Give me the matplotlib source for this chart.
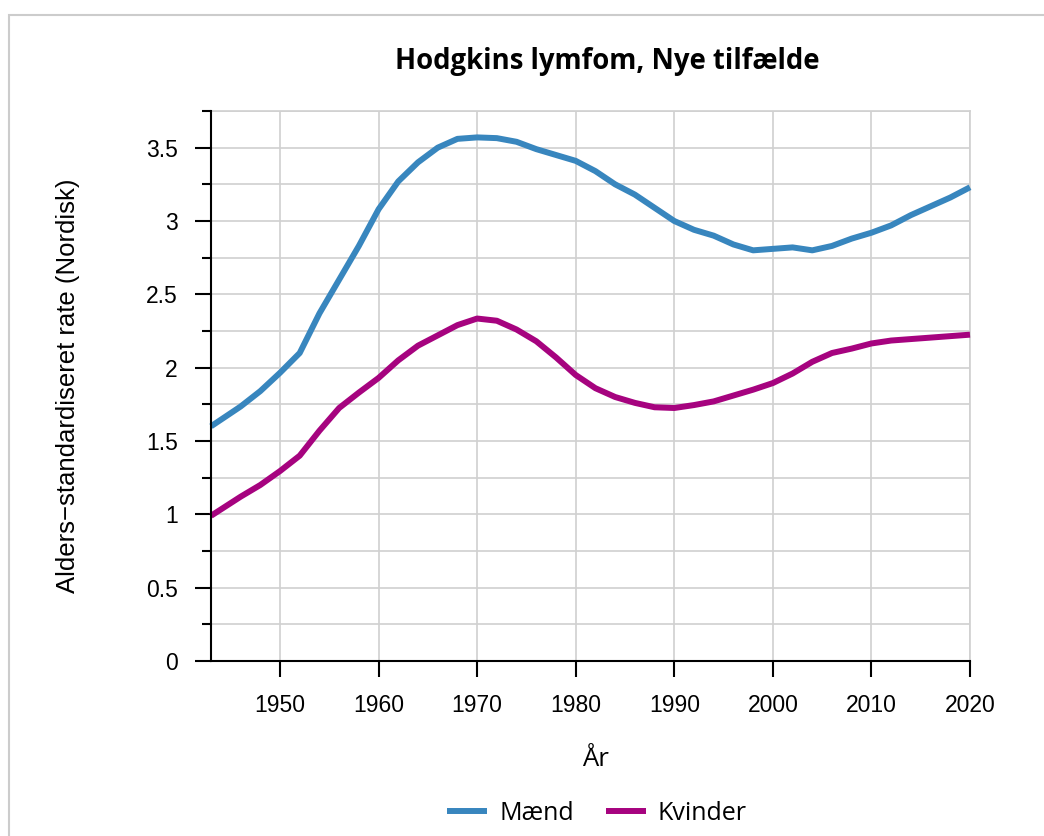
import matplotlib
matplotlib.use("Agg")
import matplotlib.pyplot as plt
from matplotlib.ticker import MultipleLocator, FixedLocator, FuncFormatter
from matplotlib.patches import Rectangle

years = [1943, 1946, 1948, 1950, 1952, 1954, 1956, 1958, 1960, 1962, 1964, 1966,
         1968, 1970, 1972, 1974, 1976, 1978, 1980, 1982, 1984, 1986, 1988, 1990,
         1992, 1994, 1996, 1998, 2000, 2002, 2004, 2006, 2008, 2010, 2012, 2014,
         2016, 2018, 2020]
maend = [1.60, 1.735, 1.84, 1.965, 2.10, 2.37, 2.60, 2.83, 3.08, 3.27, 3.40, 3.50,
         3.56, 3.57, 3.565, 3.54, 3.49, 3.45, 3.41, 3.34, 3.25, 3.18, 3.09, 3.00,
         2.94, 2.90, 2.84, 2.80, 2.81, 2.82, 2.80, 2.83, 2.88, 2.92, 2.97, 3.04,
         3.10, 3.16, 3.23]
kvinder = [0.99, 1.12, 1.20, 1.295, 1.40, 1.57, 1.725, 1.83, 1.93, 2.05, 2.15, 2.22,
           2.29, 2.335, 2.32, 2.26, 2.18, 2.07, 1.95, 1.86, 1.80, 1.76, 1.73, 1.725,
           1.745, 1.77, 1.81, 1.85, 1.895, 1.96, 2.04, 2.10, 2.13, 2.165, 2.185, 2.195,
           2.205, 2.215, 2.225]
series_names = ["Mænd", "Kvinder"]
colors = ["#3886be", "#a6037f"]
x_ticks = [1950, 1960, 1970, 1980, 1990, 2000, 2010, 2020]
title = "Hodgkins lymfom, Nye tilfælde"
xlabel = "År"
ylabel = "Alders\u2212standardiseret rate (Nordisk)"

W, H = 1044, 836
fig = plt.figure(figsize=(W / 100, H / 100), dpi=100)
fig.patch.set_facecolor("white")

# outer light frame
fig.patches.append(Rectangle((8.5 / W, -0.1), 1.2, 1 - 15 / H + 0.1,
                             transform=fig.transFigure, fill=False,
                             edgecolor="#cccccc", lw=1.5, zorder=0))

ax = fig.add_axes([211 / W, (H - 661) / H, (970 - 211) / W, (661 - 111) / H])
ax.set_xlim(1943, 2020)
ax.set_ylim(0, 3.75)

ax.plot(years, maend, color=colors[0], lw=4.3, label=series_names[0],
        solid_joinstyle="round", solid_capstyle="butt", zorder=3, clip_on=False)
ax.plot(years, kvinder, color=colors[1], lw=4.3, label=series_names[1],
        solid_joinstyle="round", solid_capstyle="butt", zorder=3, clip_on=False)

ax.xaxis.set_major_locator(FixedLocator(x_ticks))
ax.yaxis.set_major_locator(MultipleLocator(0.5))
ax.yaxis.set_minor_locator(MultipleLocator(0.25))
ax.yaxis.set_major_formatter(FuncFormatter(lambda v, p: f"{v:g}"))

ax.grid(True, which="major", axis="x", color="#d0d0d0", lw=1.2)
ax.grid(True, which="both", axis="y", color="#d0d0d0", lw=1.2)
ax.set_axisbelow(True)

for s in ["top", "right"]:
    ax.spines[s].set_color("#d0d0d0")
    ax.spines[s].set_linewidth(1.2)
for s in ["left", "bottom"]:
    ax.spines[s].set_color("black")
    ax.spines[s].set_linewidth(1.5)
    ax.spines[s].set_zorder(4)

tickfont = "Liberation Sans"
ax.tick_params(axis="both", which="major", length=11.5, width=1.5, color="black",
               labelsize=16.5, pad=12.5)
ax.tick_params(axis="y", which="minor", length=6.5, width=1.5, color="black")
for lab in ax.get_xticklabels() + ax.get_yticklabels():
    lab.set_fontfamily(tickfont)

fig.text(607.5 / W, 1 - 62 / H, title, ha="center", va="center",
         fontsize=19.8, fontweight="bold", family="Open Sans")
fig.text(68 / W, 1 - 386 / H, ylabel, ha="center", va="center", rotation=90,
         fontsize=18.5, family="Liberation Sans")
fig.text(595 / W, 1 - 760 / H, xlabel, ha="center", va="center",
         fontsize=18.5, family="Open Sans")

fig.legend(loc="center", bbox_to_anchor=(597 / W, 1 - 813 / H), ncol=2,
           frameon=False, prop={"family": "Open Sans", "size": 18},
           handlelength=1.6, handletextpad=0.48, columnspacing=1.28)

fig.savefig("out.png", dpi=100, facecolor="white")
